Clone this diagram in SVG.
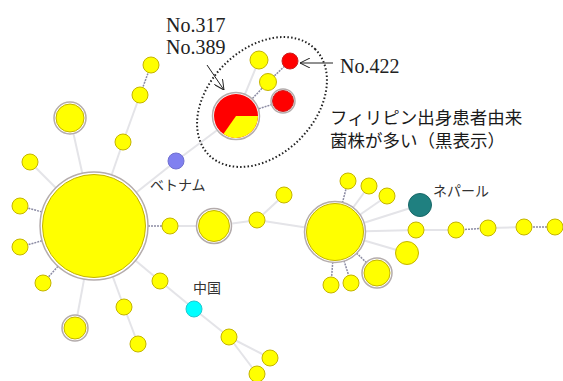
<svg xmlns="http://www.w3.org/2000/svg" width="563" height="381" viewBox="0 0 563 381">
<style>
.e{stroke:#e4e4e8;stroke-width:2;fill:none}
.d{stroke:#8c8ca4;stroke-width:1.5;stroke-dasharray:2 1;fill:none}
.y{fill:#ffff00;stroke:#c4b400;stroke-width:1}
.r{fill:#ff0000;stroke:#cc2020;stroke-width:1}
.ring{fill:#fff;stroke:#b4acac;stroke-width:1.5}
.lbl{font-family:"Noto Sans CJK JP","Noto Sans",sans-serif;font-size:14px;fill:#333}
.no{font-family:"Liberation Serif",serif;font-size:20px;fill:#222}
.jp{font-family:"Noto Sans CJK JP","Noto Sans",sans-serif;font-size:17.5px;fill:#1a1a1a}
.arr{stroke:#222;stroke-width:1;fill:none}
</style>
<defs>
<marker id="ah" viewBox="0 0 10 10" refX="10" refY="5" markerWidth="10" markerHeight="10" markerUnits="userSpaceOnUse" orient="auto">
<path d="M0,0 L10,5 L0,10" fill="none" stroke="#222" stroke-width="1"/>
</marker>
</defs>
<g id="connectors">
<line class="e" x1="94" y1="226" x2="30" y2="162"/>
<line class="e" x1="94" y1="226" x2="75" y2="328"/>
<line class="e" x1="94" y1="226" x2="124" y2="307"/>
<line class="e" x1="124" y1="307" x2="138" y2="344"/>
<line class="e" x1="94" y1="226" x2="160" y2="281"/>
<line class="e" x1="160" y1="281" x2="194" y2="309"/>
<line class="e" x1="194" y1="309" x2="229" y2="337"/>
<line class="e" x1="229" y1="337" x2="270" y2="358"/>
<line class="e" x1="229" y1="337" x2="257" y2="374"/>
<line class="e" x1="170" y1="226" x2="214" y2="226"/>
<line class="e" x1="214" y1="226" x2="257" y2="220"/>
<line class="e" x1="257" y1="220" x2="284" y2="195"/>
<line class="e" x1="257" y1="220" x2="335" y2="232"/>
<line class="e" x1="94" y1="226" x2="123" y2="142"/>
<line class="e" x1="123" y1="142" x2="140" y2="95"/>
<line class="e" x1="94" y1="226" x2="70" y2="118"/>
<line class="e" x1="94" y1="226" x2="176" y2="161"/>
<line class="e" x1="176" y1="161" x2="236" y2="116"/>
<line class="e" x1="236" y1="116" x2="259" y2="60"/>
<line class="e" x1="335" y1="232" x2="369" y2="186"/>
<line class="e" x1="335" y1="232" x2="387" y2="196"/>
<line class="e" x1="335" y1="232" x2="420" y2="205"/>
<line class="e" x1="335" y1="232" x2="416" y2="230"/>
<line class="e" x1="416" y1="230" x2="456" y2="230"/>
<line class="e" x1="335" y1="232" x2="407" y2="253"/>
<line class="e" x1="488" y1="228" x2="524" y2="227"/>
<line class="d" x1="94" y1="226" x2="20" y2="206"/>
<line class="d" x1="94" y1="226" x2="20" y2="247"/>
<line class="d" x1="94" y1="226" x2="43" y2="283"/>
<line class="d" x1="94" y1="226" x2="170" y2="226"/>
<line class="d" x1="140" y1="95" x2="151" y2="65"/>
<line class="d" x1="236" y1="116" x2="268" y2="82"/>
<line class="d" x1="268" y1="82" x2="290" y2="61"/>
<line class="d" x1="236" y1="116" x2="283" y2="101"/>
<line class="d" x1="335" y1="232" x2="348" y2="181"/>
<line class="d" x1="335" y1="232" x2="377" y2="273"/>
<line class="d" x1="335" y1="232" x2="331" y2="285"/>
<line class="d" x1="335" y1="232" x2="351" y2="283"/>
<line class="d" x1="456" y1="230" x2="488" y2="228"/>
<line class="d" x1="524" y1="227" x2="555" y2="227"/>
</g>
<g id="hub-left"><circle class="ring" cx="94" cy="226" r="54"/><circle class="y" cx="94" cy="226" r="51.5"/></g>
<g id="n1"><circle class="y" cx="30" cy="162" r="8"/></g>
<g id="n2"><circle class="y" cx="20" cy="206" r="8"/></g>
<g id="n3"><circle class="y" cx="20" cy="247" r="8"/></g>
<g id="n4"><circle class="y" cx="43" cy="283" r="8"/></g>
<g id="n5"><circle class="ring" cx="75" cy="328" r="13"/><circle class="y" cx="75" cy="328" r="11"/></g>
<g id="n6"><circle class="y" cx="124" cy="307" r="8"/></g>
<g id="n7"><circle class="y" cx="138" cy="344" r="8"/></g>
<g id="n8"><circle class="y" cx="160" cy="281" r="8"/></g>
<g id="n9"><circle class="y" cx="170" cy="226" r="8"/></g>
<g id="n10"><circle class="y" cx="123" cy="142" r="8"/></g>
<g id="n11"><circle class="ring" cx="70" cy="118" r="16"/><circle class="y" cx="70" cy="118" r="14"/></g>
<g id="n12"><circle class="y" cx="140" cy="95" r="8"/></g>
<g id="n13"><circle class="y" cx="151" cy="65" r="8"/></g>
<g id="vietnam"><circle cx="176" cy="161" r="8" fill="#8080f0" stroke="#7070d0" stroke-width="1"/><text class="lbl" x="150" y="190">ベトナム</text></g>
<g id="n14"><circle class="ring" cx="214" cy="226" r="17.5"/><circle class="y" cx="214" cy="226" r="15.5"/></g>
<g id="n15"><circle class="y" cx="257" cy="220" r="8"/></g>
<g id="n16"><circle class="y" cx="284" cy="195" r="8"/></g>
<g id="china"><circle cx="194" cy="309" r="8" fill="#00ffff" stroke="#20c8d0" stroke-width="1"/><text class="lbl" x="193" y="293">中国</text></g>
<g id="n17"><circle class="y" cx="229" cy="337" r="8"/></g>
<g id="n18"><circle class="y" cx="270" cy="358" r="8"/></g>
<g id="n19"><circle class="y" cx="257" cy="374" r="8"/></g>
<g id="pie"><circle class="ring" cx="236" cy="116" r="23.5"/><circle cx="236" cy="116" r="22" fill="#ff0000"/><path d="M236,116 L258,116 A22,22 0 0,1 223.4,134 Z" fill="#ffff00"/></g>
<g id="n20"><circle class="y" cx="259" cy="60" r="9"/></g>
<g id="n21"><circle class="r" cx="290" cy="61" r="8"/></g>
<g id="n22"><circle class="y" cx="268" cy="82" r="8.5"/></g>
<g id="n23"><circle class="ring" cx="283" cy="101" r="12"/><circle class="r" cx="283" cy="101" r="10.5"/></g>
<g id="hub-right"><circle class="ring" cx="335" cy="232" r="30.5"/><circle class="y" cx="335" cy="232" r="28.5"/></g>
<g id="n24"><circle class="y" cx="348" cy="181" r="8"/></g>
<g id="n25"><circle class="y" cx="369" cy="186" r="8"/></g>
<g id="n26"><circle class="y" cx="387" cy="196" r="8"/></g>
<g id="nepal"><circle cx="420" cy="205" r="11.5" fill="#1f8080" stroke="#186868" stroke-width="1"/><text class="lbl" x="433" y="196">ネパール</text></g>
<g id="n27"><circle class="y" cx="416" cy="230" r="8"/></g>
<g id="n28"><circle class="y" cx="407" cy="253" r="11.5"/></g>
<g id="n29"><circle class="ring" cx="377" cy="273" r="15"/><circle class="y" cx="377" cy="273" r="13"/></g>
<g id="n30"><circle class="y" cx="331" cy="285" r="8"/></g>
<g id="n31"><circle class="y" cx="351" cy="283" r="8"/></g>
<g id="n32"><circle class="y" cx="456" cy="230" r="8"/></g>
<g id="n33"><circle class="y" cx="488" cy="228" r="8"/></g>
<g id="n34"><circle class="y" cx="524" cy="227" r="8"/></g>
<g id="n35"><circle class="y" cx="555" cy="227" r="8"/></g>
<g id="annotations">
<ellipse cx="262" cy="102" rx="75" ry="53" transform="rotate(-45 262 102)" fill="none" stroke="#222" stroke-width="2" stroke-dasharray="1.5 2.2"/>
<text class="no" x="166" y="32">No.317</text>
<text class="no" x="166" y="54">No.389</text>
<line class="arr" x1="207" y1="65" x2="224" y2="90" marker-end="url(#ah)"/>
<text class="no" x="340" y="73">No.422</text>
<line class="arr" x1="333" y1="63" x2="300" y2="63" marker-end="url(#ah)"/>
<text class="jp" x="330" y="124">フィリピン出身患者由来</text>
<text class="jp" x="330" y="147">菌株が多い（黒表示）</text>
</g>
</svg>
